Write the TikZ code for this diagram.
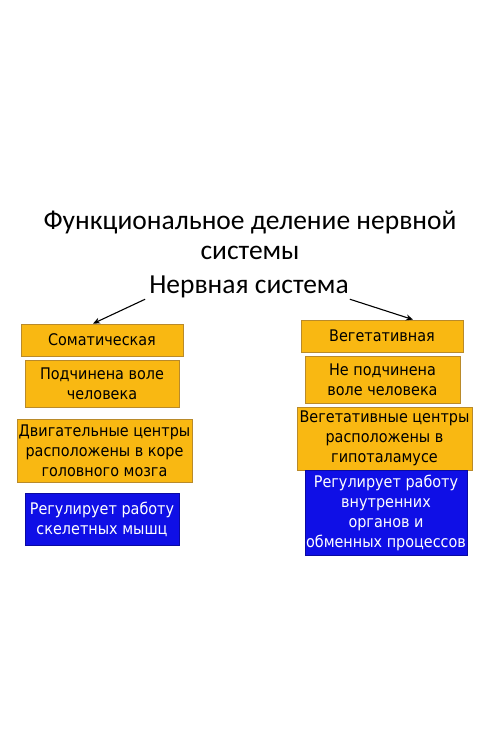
\documentclass[tikz,border=0pt]{standalone}
\usepackage{fontspec}
\setmainfont{DejaVu Sans}
\newfontfamily\boxfont[FakeStretch=0.9]{DejaVu Sans}
\newfontfamily\titlefont{Carlito}
\usetikzlibrary{arrows.meta}
\definecolor{boxorange}{HTML}{F9B812}
\definecolor{boxedge}{HTML}{B98A2A}
\definecolor{boxblue}{HTML}{0F0FE6}
\tikzset{
  obox/.style={draw=boxedge, line width=0.8pt, fill=boxorange, inner sep=0pt, align=center,
    font=\boxfont\fontsize{16}{20}\selectfont, text=black},
  bbox/.style={draw=boxblue!70!black, line width=0.5pt, fill=boxblue, inner sep=0pt, align=center,
    font=\boxfont\fontsize{16}{20}\selectfont, text=white},
  ttl/.style={font=\titlefont\fontsize{27.5}{31}\selectfont, inner sep=0pt},
  conn/.style={line width=1.1pt, -{Stealth[length=7pt,width=6pt]}}
}
\begin{document}
\begin{tikzpicture}[x=1pt,y=-1pt]
\fill[white] (0,0) rectangle (500,744);
\useasboundingbox (0,0) rectangle (500,744);
\node[ttl] (t1) at (250,222) {Функциональное деление нервной};
\node[ttl] (t2) at (250,253) {системы};
\node[ttl] (ns) at (249,287) {Нервная система};

\node[obox, minimum width=162pt, minimum height=32pt] (soma) at (102,340) {Соматическая};
\node[obox, minimum width=154pt, minimum height=47pt] (podch) at (102,383.5) {Подчинена воле\\человека};
\node[obox, minimum width=175pt, minimum height=63pt] (dvig) at (104.5,450.5) {Двигательные центры\\расположены в коре\\головного мозга};
\node[bbox, minimum width=154pt, minimum height=52pt] (reg) at (102,519) {Регулирует работу\\скелетных мышц};

\node[obox, minimum width=162pt, minimum height=32pt] (veg) at (382,336) {Вегетативная};
\node[obox, minimum width=155pt, minimum height=47pt] (nepodch) at (382.5,379.5) {Не подчинена\\воле человека};
\node[obox, minimum width=175pt, minimum height=63pt] (vegc) at (384.5,438.5) {Вегетативные центры\\расположены в\\гипоталамусе};
\node[bbox, minimum width=162pt, minimum height=85pt] (regv) at (386,512.5) {Регулирует работу\\внутренних\\органов и\\обменных процессов};

\draw[conn] ([xshift=-4pt,yshift=-1pt]ns.south west) -- ([xshift=-9pt]soma.north);
\draw[conn] ([xshift=1pt,yshift=-1pt]ns.south east) -- ([xshift=31pt]veg.north);
\end{tikzpicture}
\end{document}
